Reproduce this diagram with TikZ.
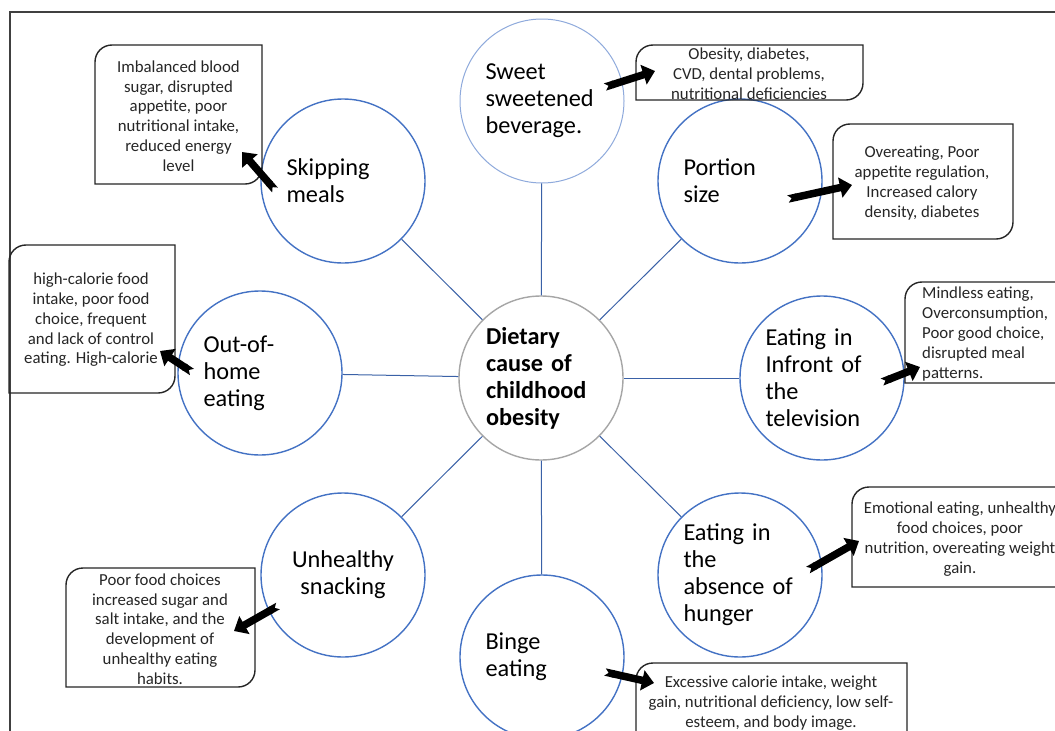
\documentclass[tikz,border=0pt]{standalone}
\usepackage{fontspec}
\setmainfont{Carlito}
\usetikzlibrary{arrows.meta}
\definecolor{obblue}{HTML}{4472C4}
\definecolor{oblight}{HTML}{8FAADC}
\definecolor{obgray}{HTML}{A6A6A6}
\definecolor{obtext}{HTML}{262626}
\definecolor{obframe}{HTML}{404040}
\newcommand\dbox[4]{%
  \draw[boxline] (#1,#2+17) .. controls (#1,#2+7.5) and (#1+7.5,#2) .. (#1+17,#2)
    -- (#3,#2) -- (#3,#4-17) .. controls (#3,#4-7.5) and (#3-7.5,#4) .. (#3-17,#4)
    -- (#1,#4) -- cycle;}
\tikzset{
  cause/.style={circle, draw=obblue, line width=1.4pt, fill=white, minimum size=164pt,
    inner sep=0pt, text width=113pt, align=left, font=\fontsize{24.3}{27}\selectfont},
  hub/.style={circle, draw=obgray, line width=1.4pt, fill=white, minimum size=164pt,
    inner sep=0pt, text width=110pt, align=left, font=\fontsize{24.3}{27}\selectfont\bfseries},
  spoke/.style={draw=obblue!85!black, line width=1pt},
  boxline/.style={draw=black!85, line width=1.4pt},
  btext/.style={align=center, font=\fontsize{16.8}{19.8}\selectfont, text=obtext, inner sep=0pt},
  fat/.style={line width=7.5pt, draw=black, {Triangle Cap[reversed]}-{Triangle[width=20pt,length=12pt]}},
  frameline/.style={draw=obframe, line width=1.2pt}
}
\begin{document}
\begin{tikzpicture}[x=1pt,y=-1pt]
\useasboundingbox (0,0) rectangle (1055,731);
\clip (0,0) rectangle (1055,731);
\fill[white] (0,0) rectangle (1055,731);
\draw[frameline] (10,731) -- (10,12) -- (1055,12);

% circles
\node[hub] (c) at (541,378) {Dietary\\cause of\\childhood\\obesity};
\node[cause, draw=oblight, line width=1pt] (s1) at (542,101) {Sweet\\sweetened\\beverage.};
\node[cause] (s2) at (740,181) {Portion\\size};
\node[cause] (s3) at (822,378) {Eating in\\Infront of\\the\\television};
\node[cause] (s4) at (740,575) {Eating in\\the\\absence of\\hunger};
\node[cause] (s5) at (542,657) {Binge\\eating};
\node[cause, align=center] (s6) at (343,575) {Unhealthy\\snacking};
\node[cause] (s7) at (260,373) {Out-of-\\home\\eating};
\node[cause] (s8) at (343,181) {Skipping\\meals};

\foreach \n in {s1,s2,s3,s4,s5,s6,s7,s8} \draw[spoke] (c) -- (\n);

% effect boxes
\dbox{95}{45}{262}{184}
\node[btext] (e8) at (178.5,116) {Imbalanced blood\\sugar, disrupted\\appetite, poor\\nutritional intake,\\reduced energy\\level};
\dbox{636}{45}{863}{100}
\node[btext] (e1) at (749,74) {Obesity, diabetes,\\CVD, dental problems,\\nutritional deficiencies};
\dbox{833}{124}{1013}{239}
\node[btext] (e2) at (922,183) {Overeating, Poor\\appetite regulation,\\Increased calory\\density, diabetes};
\dbox{905}{282}{1075}{383}
\node[btext, anchor=west, align=left] (e3) at (922,334) {Mindless eating,\\Overconsumption,\\Poor good choice,\\disrupted meal\\patterns.};
\dbox{852}{487}{1075}{587}
\node[btext] (e4) at (960,539) {Emotional eating, unhealthy\\food choices, poor\\nutrition, overeating weight\\gain.};
\dbox{636}{663}{907}{760}
\node[btext] (e5) at (771,703) {Excessive calorie intake, weight\\gain, nutritional deficiency, low self-\\esteem, and body image.};
\dbox{9}{245}{175}{393}
\node[btext] (e7) at (91,320) {high-calorie food\\intake, poor food\\choice, frequent\\and lack of control\\eating. High-calorie};
\dbox{66}{568}{255}{687}
\node[btext] (e6) at (160,629) {Poor food choices\\increased sugar and\\salt intake, and the\\development of\\unhealthy eating\\habits.};

% arrows
\coordinate (a8s) at (275,190); \coordinate (a8e) at (242,152);
\coordinate (a1s) at (605,87);  \coordinate (a1e) at (655,71);
\coordinate (a2s) at (788,199); \coordinate (a2e) at (852,185);
\coordinate (a3s) at (882,382); \coordinate (a3e) at (920,367);
\coordinate (a4s) at (808,570); \coordinate (a4e) at (859,541);
\coordinate (a5s) at (605,672); \coordinate (a5e) at (654,683);
\coordinate (a7s) at (192,372); \coordinate (a7e) at (160,351);
\coordinate (a6s) at (278,606); \coordinate (a6e) at (234,631);
\foreach \k in {1,...,8} \draw[fat] (a\k s) -- (a\k e);
\end{tikzpicture}
\end{document}
